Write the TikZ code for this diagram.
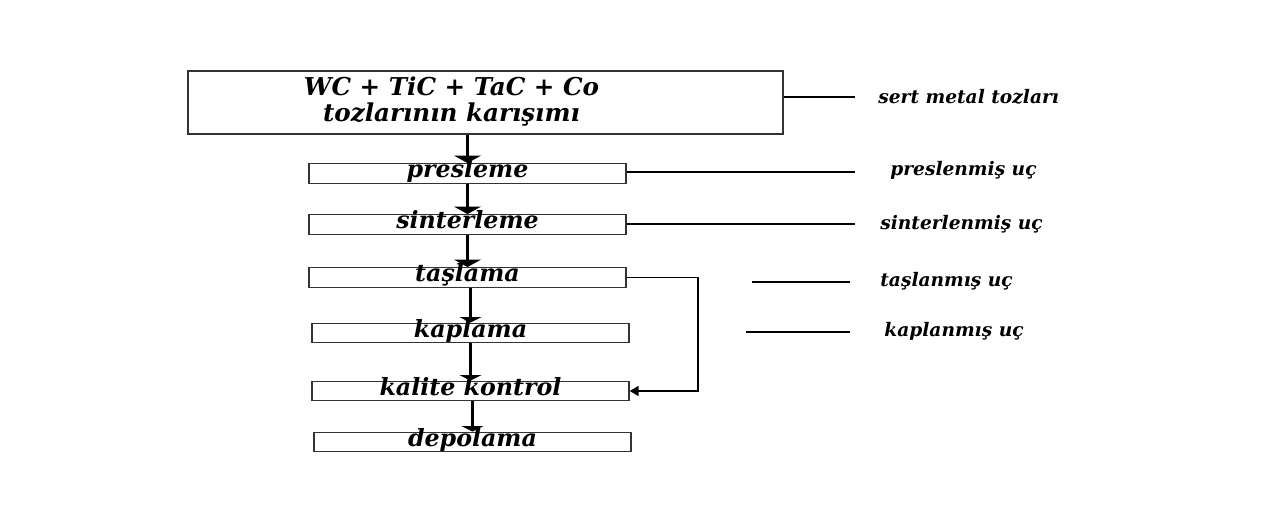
\documentclass[tikz,border=0pt]{standalone}
\usepackage{fontspec}
\setmainfont{DejaVu Serif}
\usetikzlibrary{arrows.meta, positioning}

\begin{document}
\begin{tikzpicture}[x=0.02cm, y=-0.02cm,
    procbox/.style={draw=black!80, line width=0.8pt, inner sep=0pt, minimum width=6.34cm,
      minimum height=0.39cm, text height=0.24cm, text depth=0.06cm,
      font=\fontsize{13.5}{15}\selectfont\bfseries\itshape},
    sidelbl/.style={anchor=west, inner sep=0pt, font=\fontsize{10.6}{13}\selectfont\bfseries\itshape},
    bigflow/.style={line width=1.7pt, -{Triangle[width=0.54cm, length=0.15cm]}},
    flow/.style={line width=1.2pt, -{Triangle[width=0.44cm, length=0.11cm]}},
    tie/.style={line width=0.6pt}]
  \useasboundingbox (0,0) rectangle (1280,526);

  \node[procbox, minimum width=11.9cm, minimum height=1.26cm, text height=0pt, text depth=0pt,
    label={[align=center, xshift=-0.68cm, yshift=0.02cm, font=\fontsize{14}{14.5}\selectfont\bfseries\itshape]center:{WC + TiC + TaC + Co\\tozlarının karışımı}}] (mix) at (485.5,102.5) {};
  \node[procbox] (pres) at (467.5,173.5) {presleme};
  \node[procbox] (sint) at (467.5,224.5) {sinterleme};
  \node[procbox] (tasl) at (467.5,277.5) {taşlama};
  \node[procbox] (kapl) at (470.5,333) {kaplama};
  \node[procbox] (kalite) at (470.5,391) {kalite kontrol};
  \node[procbox] (depo) at (472.5,442) {depolama};

  \node[sidelbl] (sert) at (878,97) {sert metal tozları};
  \node[sidelbl] (presu) at (890,170) {preslenmiş uç};
  \node[sidelbl] (sintu) at (880,224) {sinterlenmiş uç};
  \node[sidelbl] (taslu) at (880,281) {taşlanmış uç};
  \node[sidelbl] (kaplu) at (884,331) {kaplanmış uç};

  \coordinate (sertend) at (855,97);
  \coordinate (presend) at (855,172);
  \coordinate (sintend) at (855,224);
  \coordinate (tasla) at (752,282);
  \coordinate (taslb) at (850,282);
  \coordinate (kapla) at (746,332);
  \coordinate (kaplb) at (850,332);
  \coordinate (loop) at (698,0);

  \draw[bigflow] (mix.south -| pres.north) -- (pres.north);
  \draw[bigflow] (pres.south) -- (sint.north);
  \draw[bigflow] (sint.south) -- (tasl.north);
  \draw[flow] (tasl.south -| kapl.north) -- (kapl.north);
  \draw[flow] (kapl.south) -- (kalite.north);
  \draw[flow] (kalite.south -| depo.north) -- (depo.north);
  \draw[line width=1pt, -{Triangle[width=0.2cm, length=0.18cm]}]
    (tasl.east) -- (tasl.east -| loop) -- (kalite.east -| loop) -- (kalite.east);

  \draw[tie] (mix.east |- sertend) -- (sertend);
  \draw[tie] (pres.east |- presend) -- (presend);
  \draw[tie] (sint.east |- sintend) -- (sintend);
  \draw[tie] (tasla) -- (taslb);
  \draw[tie] (kapla) -- (kaplb);
\end{tikzpicture}
\end{document}
